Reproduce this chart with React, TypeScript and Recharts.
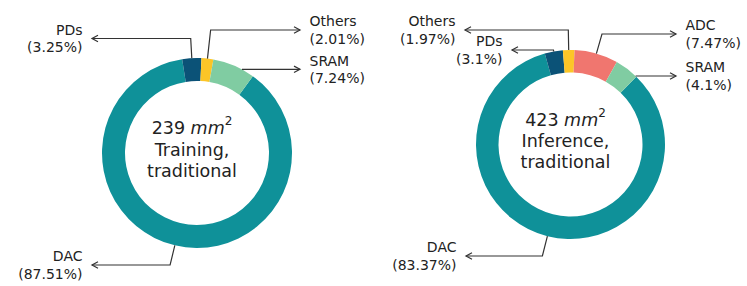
import React from 'react';
import { PieChart, Pie, Cell, Label } from 'recharts';

const trainingNames = ['DAC', 'PDs', 'Others', 'SRAM'];
const trainingShares = [87.51, 3.25, 2.01, 7.24];
const inferenceNames = ['DAC', 'PDs', 'Others', 'ADC', 'SRAM'];
const inferenceShares = [83.37, 3.1, 1.97, 7.47, 4.1];
const totals = ['239', '423'];
const titles = [['Training,', 'traditional'], ['Inference,', 'traditional']];

const COLORS: Record<string, string> = {
  DAC: '#0f9199',
  PDs: '#0b5277',
  Others: '#fcc527',
  SRAM: '#80cca2',
  ADC: '#f0766f',
};

// donut centres
const LEFT = { cx: 192, cy: 148 };
const RIGHT = { cx: 565.5, cy: 139.5 };

// where each annotation arrow sits: dy = arrow level from centre, dx = arrow tip from centre
const trainingArrows: Record<string, { dx: number; dy: number }> = {
  DAC: { dx: -105, dy: 112 },
  PDs: { dx: -105, dy: -114.5 },
  Others: { dx: 103, dy: -123 },
  SRAM: { dx: 103, dy: -83.7 },
};
const inferenceArrows: Record<string, { dx: number; dy: number }> = {
  DAC: { dx: -104.5, dy: 111.5 },
  PDs: { dx: -58.5, dy: -94.5 },
  Others: { dx: -105.5, dy: -114.5 },
  ADC: { dx: 105.5, dy: -110.5 },
  SRAM: { dx: 105.5, dy: -68.5 },
};

const FONT = '"DejaVu Sans", sans-serif';
const INK = '#222';
const RAD = Math.PI / 180;

const training = trainingNames.map((name, i) => ({ name, value: trainingShares[i] }));
const inference = inferenceNames.map((name, i) => ({ name, value: inferenceShares[i] }));

function arrowLabel(pos: Record<string, { dx: number; dy: number }>) {
  return (props: any) => {
    const { cx, cy, midAngle, outerRadius, payload, index } = props;
    const name = payload?.name ?? props.name;
    const p = pos[name];
    if (!p) return null;
    const R = outerRadius;
    const yh = cy + p.dy;
    const tx = cx + p.dx;
    const x0 = cx + R * Math.cos(midAngle * RAD);
    const y0 = cy - R * Math.sin(midAngle * RAD);
    const d = (y0 - yh) / Math.sin(midAngle * RAD);
    let path: string;
    let lastX: number;
    if (d >= 0) {
      const xe = x0 + d * Math.cos(midAngle * RAD);
      path = `M${x0},${y0}L${xe},${yh}L${tx},${yh}`;
      lastX = xe;
    } else {
      // elbow hidden behind the ring: only the part outside shows
      const s = Math.sign(tx - cx);
      const xs = cx + s * Math.sqrt(Math.max(0, R * R - p.dy * p.dy));
      path = `M${xs},${yh}L${tx},${yh}`;
      lastX = xs;
    }
    const dir = Math.sign(tx - lastX) || 1;
    const head = `M${tx - dir * 6},${yh - 3.2}L${tx},${yh}L${tx - dir * 6},${yh + 3.2}`;
    const textX = tx + dir * 9.5;
    const anchor = dir > 0 ? 'start' : 'end';
    return (
      <g key={`lab-${index}`}>
        <path d={path} fill="none" stroke="#333" strokeWidth={1.2} />
        <path d={head} fill="none" stroke="#333" strokeWidth={1.2} />
        <text x={textX} y={yh - 8.7} textAnchor={anchor} dominantBaseline="central"
          fontFamily={FONT} fontSize={14} fill={INK}>{name}</text>
        <text x={textX} y={yh + 8.7} textAnchor={anchor} dominantBaseline="central"
          fontFamily={FONT} fontSize={14} fill={INK}>{`(${props.value}%)`}</text>
      </g>
    );
  };
}

function centerText(total: string, lines: string[], cx: number, cy: number) {
  return () => {
    const common = { x: cx, textAnchor: 'middle' as const, dominantBaseline: 'central' as const, fontFamily: FONT, fontSize: 17.5, fill: INK };
    return (
      <g>
        <text {...common} y={cy - 20}>
          {total} <tspan fontStyle="italic">mm</tspan>
          <tspan fontSize={12} dy={-7}>2</tspan>
        </text>
        <text {...common} y={cy + 1.5}>{lines[0]}</text>
        <text {...common} y={cy + 22.5}>{lines[1]}</text>
      </g>
    );
  };
}

export default function App() {
  return (
    <div style={{ position: 'absolute', left: 0, top: 0, background: '#fff' }}>
      <PieChart width={747} height={286}>
        <Pie
          data={training}
          dataKey="value"
          nameKey="name"
          cx={LEFT.cx}
          cy={LEFT.cy}
          innerRadius={72}
          outerRadius={95}
          startAngle={54}
          endAngle={-306}
          stroke="none"
          labelLine={false}
          label={arrowLabel(trainingArrows)}
          isAnimationActive={false}
        >
          {training.map((d) => <Cell key={d.name} fill={COLORS[d.name]} />)}
          <Label position="center" content={centerText(totals[0], titles[0], LEFT.cx, LEFT.cy)} />
        </Pie>
        <Pie
          data={inference}
          dataKey="value"
          nameKey="name"
          cx={RIGHT.cx}
          cy={RIGHT.cy}
          innerRadius={72}
          outerRadius={94.5}
          startAngle={45.9}
          endAngle={-314.1}
          stroke="none"
          labelLine={false}
          label={arrowLabel(inferenceArrows)}
          isAnimationActive={false}
        >
          {inference.map((d) => <Cell key={d.name} fill={COLORS[d.name]} />)}
          <Label position="center" content={centerText(totals[1], titles[1], RIGHT.cx, RIGHT.cy)} />
        </Pie>
      </PieChart>
    </div>
  );
}
